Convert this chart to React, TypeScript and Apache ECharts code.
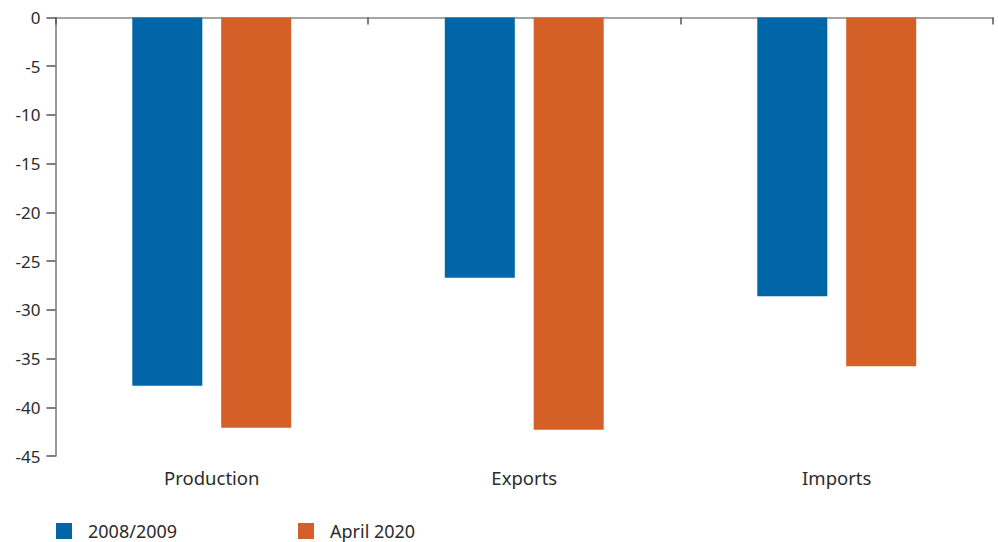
import React, { useEffect, useRef } from "react";
import * as echarts from "echarts";

const categories = ["Production", "Exports", "Imports"];
const series2008 = [-37.8, -26.7, -28.6];
const seriesApril2020 = [-42.1, -42.3, -35.8];
const seriesNames = ["2008/2009", "April 2020"];
const yTicks = { min: -45, max: 0, interval: 5 };

const BLUE = "#0066A8";
const ORANGE = "#D46027";
const TEXT = "#2b2b2b";
const FONT = "'Noto Sans', sans-serif";

export default function App() {
  const ref = useRef<HTMLDivElement>(null);
  useEffect(() => {
    if (!ref.current) return;
    const chart = echarts.init(ref.current, undefined, { renderer: "svg" });
    const legendCommon = {
      padding: 0,
      itemWidth: 16,
      itemHeight: 16,
      icon: "rect",
      textStyle: {
        color: TEXT,
        fontSize: 18,
        lineHeight: 16,
        fontFamily: FONT,
        padding: [0, 0, 0, 11],
      },
    };
    chart.setOption({
      animation: false,
      grid: { left: 55.5, right: 5, top: 17.5, bottom: 86, containLabel: false },
      legend: [
        { ...legendCommon, data: [seriesNames[0]], left: 56, top: 522 },
        { ...legendCommon, data: [seriesNames[1]], left: 298, top: 522 },
      ],
      xAxis: [
        {
          type: "category",
          data: categories,
          position: "bottom",
          axisLine: { show: false, onZero: false },
          axisTick: { show: false },
          axisLabel: { color: TEXT, fontSize: 18.5, fontFamily: FONT, margin: 12 },
        },
        {
          type: "category",
          data: categories,
          position: "top",
          axisLine: { show: true, onZero: false, lineStyle: { color: "#888", width: 1.5 } },
          axisTick: { show: true, inside: true, length: 7, lineStyle: { color: "#555", width: 1.5 } },
          axisLabel: { show: false },
        },
      ],
      yAxis: {
        type: "value",
        min: yTicks.min,
        max: yTicks.max,
        interval: yTicks.interval,
        axisLine: { show: true, lineStyle: { color: "#777", width: 1.5 } },
        axisTick: { show: true, length: 9, lineStyle: { color: "#555", width: 1.5 } },
        splitLine: { show: false },
        axisLabel: { color: TEXT, fontSize: 17, fontFamily: FONT, margin: 15 },
      },
      series: [
        {
          name: seriesNames[0],
          type: "bar",
          data: series2008,
          barWidth: 70,
          barGap: "27%",
          itemStyle: { color: BLUE },
        },
        {
          name: seriesNames[1],
          type: "bar",
          data: seriesApril2020,
          barWidth: 70,
          itemStyle: { color: ORANGE },
        },
      ],
    });
    return () => chart.dispose();
  }, []);
  return <div ref={ref} style={{ width: 998, height: 542, position: "absolute", left: 0, top: 0 }} />;
}
